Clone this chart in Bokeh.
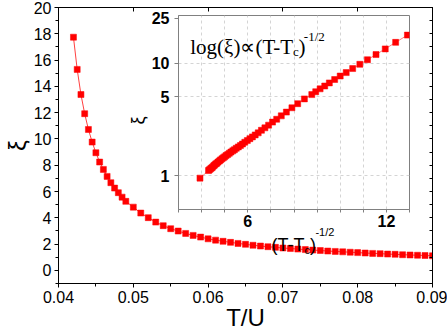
from math import pi
from bokeh.plotting import figure
from bokeh.layouts import column
from bokeh.models import Range1d, LinearAxis, FixedTicker, Label, PrintfTickFormatter
from bokeh.embed import file_html
from bokeh.resources import INLINE

# ---------------- data ----------------
T_U = [0.042, 0.0425, 0.043, 0.0435, 0.044, 0.0445, 0.045, 0.0455, 0.046, 0.0465,
       0.047, 0.0475, 0.048, 0.0485, 0.049,
       0.050, 0.051, 0.052, 0.053, 0.054, 0.055, 0.056, 0.057, 0.058, 0.059,
       0.060, 0.061, 0.062, 0.063, 0.064, 0.065, 0.066, 0.067, 0.068, 0.069,
       0.070, 0.071, 0.072, 0.073, 0.074, 0.075, 0.076, 0.077, 0.078, 0.079,
       0.080, 0.081, 0.082, 0.083, 0.084, 0.085, 0.086, 0.087, 0.088, 0.089, 0.090]
xi = [17.74, 15.29, 13.38, 11.92, 10.72, 9.76, 8.95, 8.24, 7.68, 7.15,
      6.67, 6.26, 5.91, 5.57, 5.25,
      4.81, 4.36, 4.01, 3.67, 3.40, 3.17, 2.99, 2.81, 2.66, 2.53,
      2.40, 2.30, 2.21, 2.13, 2.05, 1.98, 1.91, 1.85, 1.80, 1.75,
      1.70, 1.66, 1.62, 1.58, 1.54, 1.51, 1.47, 1.44, 1.41, 1.38,
      1.35, 1.32, 1.29, 1.27, 1.24, 1.22, 1.19, 1.17, 1.15, 1.13, 1.11]

inset_x = [12.91, 12.40, 11.95, 11.55, 11.18, 10.85, 10.54, 10.26, 10.00, 9.76,
           9.53, 9.33, 9.13, 8.94, 8.77,
           8.45, 8.16, 7.91, 7.67, 7.45, 7.25, 7.07, 6.90, 6.74, 6.59,
           6.45, 6.32, 6.20, 6.09, 5.98, 5.87, 5.77, 5.68, 5.59, 5.50,
           5.42, 5.35, 5.27, 5.20, 5.13, 5.06, 5.00, 4.94, 4.88, 4.82,
           4.77, 4.71, 4.66, 4.61, 4.56, 4.52, 4.47, 4.43, 4.39, 4.34, 4.30,
           3.93]
inset_xi = [17.74, 15.29, 13.38, 11.92, 10.72, 9.76, 8.95, 8.24, 7.68, 7.15,
            6.67, 6.26, 5.91, 5.57, 5.25,
            4.81, 4.36, 4.01, 3.67, 3.40, 3.17, 2.99, 2.81, 2.66, 2.53,
            2.40, 2.30, 2.21, 2.13, 2.05, 1.98, 1.91, 1.85, 1.80, 1.75,
            1.70, 1.66, 1.62, 1.58, 1.54, 1.51, 1.47, 1.44, 1.41, 1.38,
            1.35, 1.32, 1.29, 1.27, 1.24, 1.22, 1.19, 1.17, 1.15, 1.13, 1.11,
            0.95]

main_xticks = [0.04, 0.05, 0.06, 0.07, 0.08, 0.09]
main_xminor = [0.045, 0.055, 0.065, 0.075, 0.085]
main_yticks = [0, 2, 4, 6, 8, 10, 12, 14, 16, 18, 20]
main_yminor = [-1, 1, 3, 5, 7, 9, 11, 13, 15, 17, 19]
main_yall = [-1, 0, 1, 2, 3, 4, 5, 6, 7, 8, 9, 10, 11, 12, 13, 14, 15, 16, 17, 18, 19, 20]
inset_xlabeled = [6, 12]
inset_xminor = [3, 4, 5, 7, 8, 9, 10, 11, 13]
inset_xgrid = [4, 5, 6, 7, 8, 9, 10, 11, 12]
inset_yticks = [1, 5, 10, 25]
inset_ygrid = [1, 5, 10]

SANS = "Liberation Sans"
SERIF = "Liberation Serif"

# ---------------- geometry helpers (page pixels -> data) ----------------
def mx(px):
    return 0.04 + (px - 52) * 0.05 / 380

def my(py):
    return 20 - (py - 7) * 21 / 276

def ix(px):
    return 3 + (px - 164) * 10 / 258

def iy(py):
    return 0.5 * 53 ** ((209 - py) / 194)

# ---------------- main figure ----------------
p = figure(width=447, height=334, x_range=Range1d(0.04, 0.09), y_range=Range1d(-1, 20),
           output_backend="svg", toolbar_location=None,
           min_border_left=52, min_border_right=15, min_border_top=7, min_border_bottom=51,
           background_fill_color="white", border_fill_color="white")
p.xgrid.visible = False
p.ygrid.visible = False
p.outline_line_color = "black"
p.outline_line_width = 1

xa = p.xaxis[0]
xa.ticker = FixedTicker(ticks=main_xticks, minor_ticks=main_xminor)
ya = p.yaxis[0]
ya.ticker = FixedTicker(ticks=main_yticks, minor_ticks=main_yminor)
for ax in (xa, ya):
    ax.major_tick_out = 4
    ax.major_tick_in = 0
    ax.minor_tick_out = 3
    ax.minor_tick_in = 0
    ax.axis_line_color = "black"
    ax.major_tick_line_color = "black"
    ax.minor_tick_line_color = "black"
    ax.major_label_text_font = SANS
    ax.major_label_text_font_size = "16px"
    ax.major_label_text_color = "black"
    ax.major_label_standoff = 3
    ax.axis_label_text_font = SANS
    ax.axis_label_text_font_size = "24px"
    ax.axis_label_text_font_style = "normal"
    ax.axis_label_text_color = "black"
ya.axis_label = "ξ"
ya.axis_label_standoff = 0
xa.axis_label = "T/U"
xa.axis_label_standoff = -2

# mirrored top/right axes: ticks only (drawn as minor ticks, so no labels)
top = LinearAxis(ticker=FixedTicker(ticks=[], minor_ticks=main_xticks),
                 major_tick_in=0, major_tick_out=0, minor_tick_in=4, minor_tick_out=0,
                 major_label_standoff=0,
                 axis_line_color="black", minor_tick_line_color="black")
p.add_layout(top, "above")
right = LinearAxis(ticker=FixedTicker(ticks=[], minor_ticks=main_yall),
                   major_tick_in=0, major_tick_out=0, minor_tick_in=3, minor_tick_out=0,
                   major_label_standoff=0,
                   axis_line_color="black", minor_tick_line_color="black")
p.add_layout(right, "right")

p.line(T_U, xi, line_color="#ff4040", line_width=1)
p.scatter(T_U, xi, marker="square", size=6, fill_color="#ff0000", line_color="#ff0000", line_width=0.5)

# inset axis labels sit inside the main frame (drawn beneath the transparent inset border)
inset_xlabel_parts = [("(T-T", 302, 244, "18px", "right"), ("c", 302, 249, "11px", "left"),
                      (")", 307.5, 244, "18px", "left"), ("-1/2", 313, 231, "11px", "left")]
for txt, px, py, fs, al in inset_xlabel_parts:
    p.add_layout(Label(x=mx(px), y=my(py), text=txt, text_align=al,
                       text_baseline="alphabetic", text_font=SANS,
                       text_font_size=fs, text_color="black"))
p.add_layout(Label(x=mx(133), y=my(120), text="ξ", angle=pi / 2, text_align="center",
                   text_baseline="middle", text_font=SANS, text_font_size="18px",
                   text_color="black"))

# ---------------- inset figure ----------------
ins = figure(width=304, height=241, x_range=Range1d(3, 13), y_range=Range1d(0.5, 26.5),
             y_axis_type="log", output_backend="svg", toolbar_location=None,
             min_border_left=44, min_border_right=2, min_border_top=6, min_border_bottom=41,
             background_fill_color="white", border_fill_color=None,
             outline_line_color="#808080", outline_line_width=1,
             margin=(9 - 334, 0, 0, 120))

ixa = ins.xaxis[0]
ixa.ticker = FixedTicker(ticks=inset_xlabeled, minor_ticks=inset_xminor)
iya = ins.yaxis[0]
iya.ticker = FixedTicker(ticks=inset_yticks, minor_ticks=[])
iya.formatter = PrintfTickFormatter(format="%d")
for ax in (ixa, iya):
    ax.major_tick_out = 4
    ax.major_tick_in = 0
    ax.minor_tick_out = 3
    ax.minor_tick_in = 0
    ax.axis_line_color = "#808080"
    ax.major_tick_line_color = "#808080"
    ax.minor_tick_line_color = "#808080"
    ax.major_label_text_font = SANS
    ax.major_label_text_font_style = "bold"
    ax.major_label_text_font_size = "16px"
    ax.major_label_text_color = "black"
ixa.major_tick_out = 3
ixa.major_label_standoff = 2
iya.major_label_standoff = 5

ins.xgrid.ticker = FixedTicker(ticks=inset_xgrid)
ins.ygrid.ticker = FixedTicker(ticks=inset_ygrid)
for g in (ins.xgrid[0], ins.ygrid[0]):
    g.grid_line_color = "#d4d4d4"
    g.grid_line_dash = "3 3"
    g.grid_line_width = 1

ins.line(inset_x, inset_xi, line_color="#ff8080", line_width=1)
ins.scatter(inset_x, inset_xi, marker="square", size=6, fill_color="#ff0000",
            line_color="#ff0000", line_width=0.5)

# inset title: log(ξ)∝(T-Tc)^-1/2
title_parts = [("log(ξ)∝(T-T", 292, 46.5, "21px", "right"), ("c", 292, 51, "13px", "left"),
               (")", 298, 46.5, "21px", "left"), ("-1/2", 304, 36, "13px", "left")]
for txt, px, py, fs, al in title_parts:
    ins.add_layout(Label(x=ix(px), y=iy(py), text=txt, text_align=al,
                         text_baseline="alphabetic", text_font=SERIF,
                         text_font_size=fs, text_color="black"))

layout = column(p, ins)
open("out.html", "w").write(file_html(layout, INLINE))
